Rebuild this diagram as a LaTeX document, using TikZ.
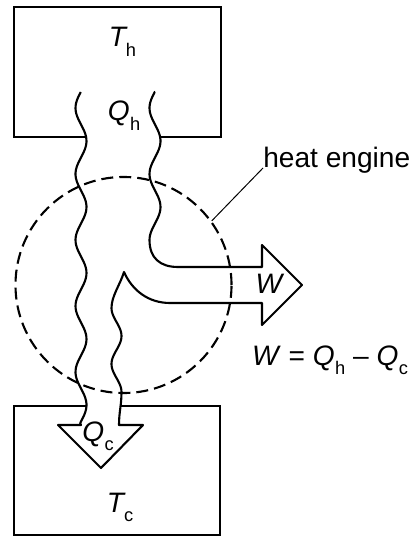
\documentclass[tikz,border=0pt]{standalone}
\usepackage{fontspec}
\setmainfont{Liberation Sans}
\newcommand{\lowsub}[1]{\kern0.3pt\raisebox{-7pt}{\fontsize{13}{14}\selectfont #1}}
\def\flowpath{(155,92) -- plot[domain=92:240,samples=60] ({155-5.5*sin((\x-91.5)/66*360)},\x)
  .. controls (149.5,258) and (160,267) .. (178,267) -- (262,267) -- (262,245) -- (302,285)
  -- (262,325) -- (262,303) -- (170,303) .. controls (148,303) and (132,290) .. (124,272)
  .. controls (120,285) and (111.5,296) .. (111.5,308)
  -- plot[domain=308:392,samples=40] ({116.5-5*sin((\x-294)/56*360)},\x)
  .. controls (121.5,405) and (119,412) .. (119,425)
  -- (143,425) -- (101,468) -- (58,425) -- (81,425)
  -- plot[domain=423:92,samples=120] ({81-5.5*sin((\x-91.5)/66*360)},\x)}
\begin{document}
\begin{tikzpicture}[x=0.025cm, y=-0.025cm,
  reservoir/.style={draw, line width=1.7pt, inner sep=0pt},
  flow/.style={line width=1.5pt, line join=round},
  engine/.style={draw, circle, line width=1.5pt, dash pattern=on 8.5pt off 4.3pt, inner sep=0pt, minimum size=5.4cm},
  lbl/.style={anchor=base, inner sep=0pt, font=\fontsize{20}{24}\selectfont}]
\useasboundingbox (0,0) rectangle (418,536);
% reservoirs
\node[reservoir, minimum width=5.175cm, minimum height=3.25cm] (hot) at (117.5,72) {};
\node[reservoir, minimum width=5.15cm, minimum height=3.225cm] (cold) at (117,470.5) {};
% heat flow
\fill[white] \flowpath -- cycle;
\node[engine] (eng) at (123.5,285) {};
\draw[flow] \flowpath;
% labels
\node[lbl] (Th) at (122.5,47) {\textit{T}\kern-1.5pt\lowsub{h}};
\node[lbl] (Qh) at (124,121) {\textit{Q}\lowsub{h}};
\node[lbl] (W) at (270,293) {\textit{W}};
\node[lbl] (eq) at (330,365) {\textit{W} = \textit{Q}\lowsub{h} \textendash{} \textit{Q}\lowsub{c}};
\node[lbl] (Qc) at (98,441) {\textit{Q}\lowsub{c}};
\node[lbl] (Tc) at (120,512) {\textit{T}\kern-1.5pt\lowsub{c}};
\node[lbl, anchor=base west] (he) at (263,168) {heat engine};
\draw[line width=0.7pt] (he.base west) -- (eng.36);
\end{tikzpicture}
\end{document}
